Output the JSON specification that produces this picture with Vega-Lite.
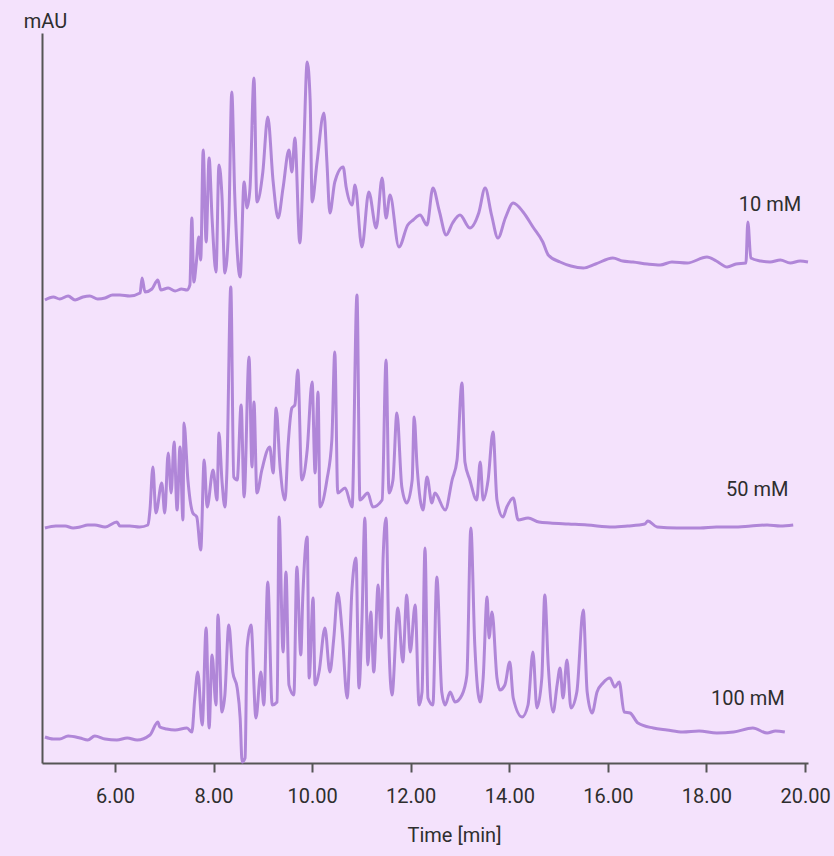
{
  "$schema": "https://vega.github.io/schema/vega-lite/v6.json",
  "width": 766,
  "height": 730,
  "autosize": {"type": "none"},
  "padding": {"left": 42, "top": 33, "right": 26, "bottom": 93},
  "background": "#f4e2fc",
  "config": {"view": {"stroke": null}, "font": "Roboto"},
  "datasets": {
    "traces": [
      {"s":"10 mM","t":4.58,"v":463},{"s":"10 mM","t":4.75,"v":466},{"s":"10 mM","t":4.88,"v":464},{"s":"10 mM","t":5.05,"v":467},{"s":"10 mM","t":5.19,"v":463},{"s":"10 mM","t":5.35,"v":466},{"s":"10 mM","t":5.49,"v":467},{"s":"10 mM","t":5.65,"v":464},{"s":"10 mM","t":5.80,"v":465},{"s":"10 mM","t":5.95,"v":468},{"s":"10 mM","t":6.10,"v":468},{"s":"10 mM","t":6.30,"v":467},{"s":"10 mM","t":6.51,"v":470},{"s":"10 mM","t":6.55,"v":485},{"s":"10 mM","t":6.61,"v":471},{"s":"10 mM","t":6.75,"v":474},{"s":"10 mM","t":6.87,"v":483},{"s":"10 mM","t":6.93,"v":473},{"s":"10 mM","t":7.08,"v":475},{"s":"10 mM","t":7.22,"v":472},{"s":"10 mM","t":7.35,"v":474},{"s":"10 mM","t":7.46,"v":473},{"s":"10 mM","t":7.52,"v":478},{"s":"10 mM","t":7.56,"v":545},{"s":"10 mM","t":7.60,"v":481},{"s":"10 mM","t":7.65,"v":500},{"s":"10 mM","t":7.70,"v":526},{"s":"10 mM","t":7.74,"v":503},{"s":"10 mM","t":7.79,"v":613},{"s":"10 mM","t":7.85,"v":521},{"s":"10 mM","t":7.91,"v":605},{"s":"10 mM","t":7.97,"v":545},{"s":"10 mM","t":8.05,"v":491},{"s":"10 mM","t":8.11,"v":598},{"s":"10 mM","t":8.17,"v":568},{"s":"10 mM","t":8.23,"v":490},{"s":"10 mM","t":8.31,"v":541},{"s":"10 mM","t":8.37,"v":671},{"s":"10 mM","t":8.43,"v":568},{"s":"10 mM","t":8.54,"v":486},{"s":"10 mM","t":8.62,"v":581},{"s":"10 mM","t":8.68,"v":555},{"s":"10 mM","t":8.74,"v":575},{"s":"10 mM","t":8.82,"v":685},{"s":"10 mM","t":8.88,"v":561},{"s":"10 mM","t":9.00,"v":591},{"s":"10 mM","t":9.10,"v":646},{"s":"10 mM","t":9.21,"v":581},{"s":"10 mM","t":9.31,"v":545},{"s":"10 mM","t":9.41,"v":575},{"s":"10 mM","t":9.53,"v":613},{"s":"10 mM","t":9.59,"v":591},{"s":"10 mM","t":9.65,"v":625},{"s":"10 mM","t":9.75,"v":520},{"s":"10 mM","t":9.83,"v":613},{"s":"10 mM","t":9.90,"v":701},{"s":"10 mM","t":9.96,"v":663},{"s":"10 mM","t":10.00,"v":561},{"s":"10 mM","t":10.10,"v":601},{"s":"10 mM","t":10.24,"v":650},{"s":"10 mM","t":10.30,"v":601},{"s":"10 mM","t":10.36,"v":550},{"s":"10 mM","t":10.46,"v":581},{"s":"10 mM","t":10.63,"v":596},{"s":"10 mM","t":10.69,"v":576},{"s":"10 mM","t":10.81,"v":558},{"s":"10 mM","t":10.87,"v":578},{"s":"10 mM","t":11.01,"v":516},{"s":"10 mM","t":11.15,"v":571},{"s":"10 mM","t":11.30,"v":535},{"s":"10 mM","t":11.42,"v":585},{"s":"10 mM","t":11.50,"v":545},{"s":"10 mM","t":11.58,"v":568},{"s":"10 mM","t":11.76,"v":516},{"s":"10 mM","t":11.94,"v":538},{"s":"10 mM","t":12.05,"v":543},{"s":"10 mM","t":12.19,"v":548},{"s":"10 mM","t":12.33,"v":538},{"s":"10 mM","t":12.45,"v":575},{"s":"10 mM","t":12.58,"v":552},{"s":"10 mM","t":12.72,"v":528},{"s":"10 mM","t":12.85,"v":540},{"s":"10 mM","t":13.00,"v":548},{"s":"10 mM","t":13.20,"v":535},{"s":"10 mM","t":13.38,"v":550},{"s":"10 mM","t":13.51,"v":575},{"s":"10 mM","t":13.64,"v":548},{"s":"10 mM","t":13.77,"v":525},{"s":"10 mM","t":13.92,"v":545},{"s":"10 mM","t":14.08,"v":560},{"s":"10 mM","t":14.28,"v":551},{"s":"10 mM","t":14.48,"v":536},{"s":"10 mM","t":14.68,"v":521},{"s":"10 mM","t":14.79,"v":508},{"s":"10 mM","t":15.03,"v":501},{"s":"10 mM","t":15.25,"v":497},{"s":"10 mM","t":15.50,"v":495},{"s":"10 mM","t":15.75,"v":499},{"s":"10 mM","t":16.10,"v":505},{"s":"10 mM","t":16.30,"v":502},{"s":"10 mM","t":16.51,"v":501},{"s":"10 mM","t":16.80,"v":499},{"s":"10 mM","t":17.06,"v":498},{"s":"10 mM","t":17.30,"v":501},{"s":"10 mM","t":17.61,"v":500},{"s":"10 mM","t":18.01,"v":506},{"s":"10 mM","t":18.20,"v":502},{"s":"10 mM","t":18.42,"v":496},{"s":"10 mM","t":18.60,"v":499},{"s":"10 mM","t":18.80,"v":500},{"s":"10 mM","t":18.84,"v":541},{"s":"10 mM","t":18.90,"v":505},{"s":"10 mM","t":19.10,"v":502},{"s":"10 mM","t":19.29,"v":501},{"s":"10 mM","t":19.50,"v":503},{"s":"10 mM","t":19.70,"v":500},{"s":"10 mM","t":19.90,"v":502},{"s":"10 mM","t":20.06,"v":501},

      {"s":"50 mM","t":4.58,"v":235},{"s":"50 mM","t":4.80,"v":237},{"s":"50 mM","t":4.99,"v":237},{"s":"50 mM","t":5.15,"v":235},{"s":"50 mM","t":5.29,"v":236},{"s":"50 mM","t":5.45,"v":238},{"s":"50 mM","t":5.59,"v":238},{"s":"50 mM","t":5.80,"v":236},{"s":"50 mM","t":6.04,"v":241},{"s":"50 mM","t":6.10,"v":237},{"s":"50 mM","t":6.30,"v":237},{"s":"50 mM","t":6.50,"v":236},{"s":"50 mM","t":6.67,"v":238},{"s":"50 mM","t":6.71,"v":253},{"s":"50 mM","t":6.77,"v":296},{"s":"50 mM","t":6.83,"v":250},{"s":"50 mM","t":6.95,"v":280},{"s":"50 mM","t":7.01,"v":250},{"s":"50 mM","t":7.08,"v":310},{"s":"50 mM","t":7.14,"v":270},{"s":"50 mM","t":7.20,"v":321},{"s":"50 mM","t":7.26,"v":253},{"s":"50 mM","t":7.32,"v":316},{"s":"50 mM","t":7.38,"v":243},{"s":"50 mM","t":7.40,"v":340},{"s":"50 mM","t":7.48,"v":283},{"s":"50 mM","t":7.58,"v":250},{"s":"50 mM","t":7.66,"v":246},{"s":"50 mM","t":7.74,"v":213},{"s":"50 mM","t":7.81,"v":303},{"s":"50 mM","t":7.87,"v":256},{"s":"50 mM","t":7.99,"v":293},{"s":"50 mM","t":8.07,"v":263},{"s":"50 mM","t":8.11,"v":330},{"s":"50 mM","t":8.17,"v":283},{"s":"50 mM","t":8.23,"v":256},{"s":"50 mM","t":8.27,"v":290},{"s":"50 mM","t":8.35,"v":476},{"s":"50 mM","t":8.41,"v":286},{"s":"50 mM","t":8.48,"v":283},{"s":"50 mM","t":8.56,"v":358},{"s":"50 mM","t":8.62,"v":266},{"s":"50 mM","t":8.72,"v":406},{"s":"50 mM","t":8.78,"v":296},{"s":"50 mM","t":8.82,"v":361},{"s":"50 mM","t":8.88,"v":270},{"s":"50 mM","t":8.98,"v":293},{"s":"50 mM","t":9.14,"v":316},{"s":"50 mM","t":9.21,"v":290},{"s":"50 mM","t":9.27,"v":355},{"s":"50 mM","t":9.35,"v":296},{"s":"50 mM","t":9.45,"v":263},{"s":"50 mM","t":9.51,"v":316},{"s":"50 mM","t":9.59,"v":355},{"s":"50 mM","t":9.65,"v":358},{"s":"50 mM","t":9.71,"v":393},{"s":"50 mM","t":9.79,"v":283},{"s":"50 mM","t":9.90,"v":313},{"s":"50 mM","t":10.00,"v":381},{"s":"50 mM","t":10.06,"v":290},{"s":"50 mM","t":10.12,"v":371},{"s":"50 mM","t":10.16,"v":256},{"s":"50 mM","t":10.30,"v":283},{"s":"50 mM","t":10.40,"v":323},{"s":"50 mM","t":10.46,"v":411},{"s":"50 mM","t":10.52,"v":270},{"s":"50 mM","t":10.67,"v":275},{"s":"50 mM","t":10.81,"v":256},{"s":"50 mM","t":10.91,"v":468},{"s":"50 mM","t":10.97,"v":263},{"s":"50 mM","t":11.13,"v":270},{"s":"50 mM","t":11.23,"v":256},{"s":"50 mM","t":11.42,"v":263},{"s":"50 mM","t":11.50,"v":403},{"s":"50 mM","t":11.56,"v":270},{"s":"50 mM","t":11.64,"v":283},{"s":"50 mM","t":11.72,"v":350},{"s":"50 mM","t":11.82,"v":276},{"s":"50 mM","t":11.92,"v":260},{"s":"50 mM","t":12.03,"v":283},{"s":"50 mM","t":12.07,"v":346},{"s":"50 mM","t":12.13,"v":296},{"s":"50 mM","t":12.25,"v":253},{"s":"50 mM","t":12.33,"v":286},{"s":"50 mM","t":12.43,"v":260},{"s":"50 mM","t":12.49,"v":270},{"s":"50 mM","t":12.70,"v":253},{"s":"50 mM","t":12.84,"v":283},{"s":"50 mM","t":12.94,"v":303},{"s":"50 mM","t":13.04,"v":380},{"s":"50 mM","t":13.10,"v":301},{"s":"50 mM","t":13.20,"v":283},{"s":"50 mM","t":13.34,"v":263},{"s":"50 mM","t":13.41,"v":301},{"s":"50 mM","t":13.47,"v":263},{"s":"50 mM","t":13.57,"v":283},{"s":"50 mM","t":13.67,"v":331},{"s":"50 mM","t":13.75,"v":263},{"s":"50 mM","t":13.87,"v":246},{"s":"50 mM","t":13.95,"v":256},{"s":"50 mM","t":14.08,"v":265},{"s":"50 mM","t":14.18,"v":243},{"s":"50 mM","t":14.38,"v":245},{"s":"50 mM","t":14.60,"v":241},{"s":"50 mM","t":14.83,"v":240},{"s":"50 mM","t":15.20,"v":239},{"s":"50 mM","t":15.58,"v":238},{"s":"50 mM","t":16.10,"v":236},{"s":"50 mM","t":16.40,"v":237},{"s":"50 mM","t":16.75,"v":239},{"s":"50 mM","t":16.81,"v":242},{"s":"50 mM","t":17.00,"v":236},{"s":"50 mM","t":17.40,"v":235},{"s":"50 mM","t":17.87,"v":235},{"s":"50 mM","t":18.20,"v":236},{"s":"50 mM","t":18.54,"v":236},{"s":"50 mM","t":18.90,"v":237},{"s":"50 mM","t":19.23,"v":238},{"s":"50 mM","t":19.50,"v":237},{"s":"50 mM","t":19.76,"v":238},

      {"s":"100 mM","t":4.58,"v":26},{"s":"100 mM","t":4.75,"v":24},{"s":"100 mM","t":4.88,"v":24},{"s":"100 mM","t":5.05,"v":27},{"s":"100 mM","t":5.29,"v":25},{"s":"100 mM","t":5.45,"v":23},{"s":"100 mM","t":5.59,"v":27},{"s":"100 mM","t":5.80,"v":24},{"s":"100 mM","t":6.04,"v":23},{"s":"100 mM","t":6.25,"v":25},{"s":"100 mM","t":6.45,"v":23},{"s":"100 mM","t":6.71,"v":28},{"s":"100 mM","t":6.87,"v":41},{"s":"100 mM","t":6.91,"v":36},{"s":"100 mM","t":7.05,"v":34},{"s":"100 mM","t":7.22,"v":33},{"s":"100 mM","t":7.46,"v":35},{"s":"100 mM","t":7.56,"v":31},{"s":"100 mM","t":7.62,"v":65},{"s":"100 mM","t":7.68,"v":91},{"s":"100 mM","t":7.77,"v":38},{"s":"100 mM","t":7.85,"v":135},{"s":"100 mM","t":7.91,"v":35},{"s":"100 mM","t":7.97,"v":108},{"s":"100 mM","t":8.05,"v":58},{"s":"100 mM","t":8.09,"v":148},{"s":"100 mM","t":8.17,"v":51},{"s":"100 mM","t":8.23,"v":68},{"s":"100 mM","t":8.31,"v":138},{"s":"100 mM","t":8.39,"v":91},{"s":"100 mM","t":8.48,"v":75},{"s":"100 mM","t":8.54,"v":45},{"s":"100 mM","t":8.58,"v":1},{"s":"100 mM","t":8.64,"v":5},{"s":"100 mM","t":8.68,"v":115},{"s":"100 mM","t":8.76,"v":138},{"s":"100 mM","t":8.86,"v":45},{"s":"100 mM","t":8.96,"v":91},{"s":"100 mM","t":9.02,"v":58},{"s":"100 mM","t":9.10,"v":181},{"s":"100 mM","t":9.19,"v":58},{"s":"100 mM","t":9.29,"v":61},{"s":"100 mM","t":9.33,"v":246},{"s":"100 mM","t":9.41,"v":111},{"s":"100 mM","t":9.47,"v":191},{"s":"100 mM","t":9.53,"v":78},{"s":"100 mM","t":9.63,"v":68},{"s":"100 mM","t":9.69,"v":196},{"s":"100 mM","t":9.77,"v":108},{"s":"100 mM","t":9.81,"v":165},{"s":"100 mM","t":9.90,"v":226},{"s":"100 mM","t":9.94,"v":85},{"s":"100 mM","t":10.02,"v":165},{"s":"100 mM","t":10.06,"v":78},{"s":"100 mM","t":10.14,"v":91},{"s":"100 mM","t":10.26,"v":135},{"s":"100 mM","t":10.36,"v":91},{"s":"100 mM","t":10.44,"v":125},{"s":"100 mM","t":10.52,"v":170},{"s":"100 mM","t":10.61,"v":131},{"s":"100 mM","t":10.71,"v":65},{"s":"100 mM","t":10.81,"v":175},{"s":"100 mM","t":10.89,"v":205},{"s":"100 mM","t":10.95,"v":75},{"s":"100 mM","t":11.01,"v":141},{"s":"100 mM","t":11.07,"v":245},{"s":"100 mM","t":11.13,"v":98},{"s":"100 mM","t":11.19,"v":151},{"s":"100 mM","t":11.25,"v":91},{"s":"100 mM","t":11.34,"v":178},{"s":"100 mM","t":11.40,"v":125},{"s":"100 mM","t":11.44,"v":205},{"s":"100 mM","t":11.50,"v":245},{"s":"100 mM","t":11.56,"v":115},{"s":"100 mM","t":11.62,"v":68},{"s":"100 mM","t":11.74,"v":155},{"s":"100 mM","t":11.84,"v":101},{"s":"100 mM","t":11.92,"v":168},{"s":"100 mM","t":11.99,"v":111},{"s":"100 mM","t":12.09,"v":158},{"s":"100 mM","t":12.17,"v":58},{"s":"100 mM","t":12.23,"v":71},{"s":"100 mM","t":12.29,"v":215},{"s":"100 mM","t":12.35,"v":65},{"s":"100 mM","t":12.45,"v":58},{"s":"100 mM","t":12.53,"v":186},{"s":"100 mM","t":12.63,"v":71},{"s":"100 mM","t":12.70,"v":58},{"s":"100 mM","t":12.80,"v":71},{"s":"100 mM","t":12.90,"v":61},{"s":"100 mM","t":13.04,"v":68},{"s":"100 mM","t":13.14,"v":88},{"s":"100 mM","t":13.22,"v":235},{"s":"100 mM","t":13.30,"v":118},{"s":"100 mM","t":13.41,"v":61},{"s":"100 mM","t":13.47,"v":85},{"s":"100 mM","t":13.55,"v":166},{"s":"100 mM","t":13.59,"v":125},{"s":"100 mM","t":13.65,"v":151},{"s":"100 mM","t":13.75,"v":85},{"s":"100 mM","t":13.81,"v":73},{"s":"100 mM","t":13.91,"v":78},{"s":"100 mM","t":14.01,"v":101},{"s":"100 mM","t":14.08,"v":65},{"s":"100 mM","t":14.26,"v":46},{"s":"100 mM","t":14.38,"v":58},{"s":"100 mM","t":14.48,"v":111},{"s":"100 mM","t":14.56,"v":55},{"s":"100 mM","t":14.66,"v":85},{"s":"100 mM","t":14.72,"v":168},{"s":"100 mM","t":14.79,"v":98},{"s":"100 mM","t":14.89,"v":51},{"s":"100 mM","t":14.97,"v":78},{"s":"100 mM","t":15.03,"v":95},{"s":"100 mM","t":15.09,"v":65},{"s":"100 mM","t":15.17,"v":103},{"s":"100 mM","t":15.25,"v":55},{"s":"100 mM","t":15.37,"v":71},{"s":"100 mM","t":15.50,"v":153},{"s":"100 mM","t":15.58,"v":71},{"s":"100 mM","t":15.68,"v":50},{"s":"100 mM","t":15.78,"v":71},{"s":"100 mM","t":15.90,"v":80},{"s":"100 mM","t":16.04,"v":85},{"s":"100 mM","t":16.14,"v":76},{"s":"100 mM","t":16.23,"v":81},{"s":"100 mM","t":16.33,"v":51},{"s":"100 mM","t":16.45,"v":50},{"s":"100 mM","t":16.61,"v":40},{"s":"100 mM","t":16.92,"v":35},{"s":"100 mM","t":17.20,"v":33},{"s":"100 mM","t":17.52,"v":31},{"s":"100 mM","t":17.85,"v":32},{"s":"100 mM","t":18.21,"v":30},{"s":"100 mM","t":18.55,"v":31},{"s":"100 mM","t":18.94,"v":35},{"s":"100 mM","t":19.23,"v":30},{"s":"100 mM","t":19.40,"v":32},{"s":"100 mM","t":19.59,"v":31}
    ],
    "labels": [
      {"t":19.29,"v":558,"label":"10 mM"},
      {"t":19.03,"v":273,"label":"50 mM"},
      {"t":18.84,"v":64,"label":"100 mM"}
    ]
  },
  "layer": [
    {
      "data": {"name": "traces"},
      "mark": {"type": "line", "color": "#b086d8", "strokeWidth": 3, "strokeJoin": "round", "interpolate": "monotone"},
      "encoding": {
        "x": {
          "field": "t", "type": "quantitative",
          "scale": {"domain": [4.52, 20.06], "nice": false, "zero": false},
          "axis": {
            "title": "Time [min]", "values": [6, 8, 10, 12, 14, 16, 18, 20], "format": ".2f",
            "grid": false, "domainColor": "#555555", "domainWidth": 2,
            "tickColor": "#555555", "tickWidth": 2, "tickSize": 9,
            "labelFont": "Roboto", "labelFontSize": 20, "labelColor": "#2e2e2e", "labelPadding": 14, "labelFlush": false,
            "titleFont": "Roboto", "titleFontSize": 20, "titleFontWeight": "normal", "titleColor": "#2e2e2e",
            "titleX": 412, "titleY": 78, "titleBaseline": "alphabetic", "titleAlign": "center"
          }
        },
        "y": {
          "field": "v", "type": "quantitative",
          "scale": {"domain": [0, 730], "nice": false, "zero": false},
          "axis": {
            "title": "mAU", "ticks": false, "labels": false, "grid": false,
            "domainColor": "#555555", "domainWidth": 2,
            "titleAngle": 0, "titleX": 3, "titleY": -6, "titleAlign": "center", "titleBaseline": "alphabetic",
            "titleFont": "Roboto", "titleFontSize": 20, "titleFontWeight": "normal", "titleColor": "#2e2e2e"
          }
        },
        "detail": {"field": "s"}
      }
    },
    {
      "data": {"name": "labels"},
      "mark": {"type": "text", "font": "Roboto", "fontSize": 20, "color": "#2e2e2e", "align": "center", "baseline": "middle"},
      "encoding": {
        "x": {"field": "t", "type": "quantitative"},
        "y": {"field": "v", "type": "quantitative"},
        "text": {"field": "label"}
      }
    }
  ]
}
